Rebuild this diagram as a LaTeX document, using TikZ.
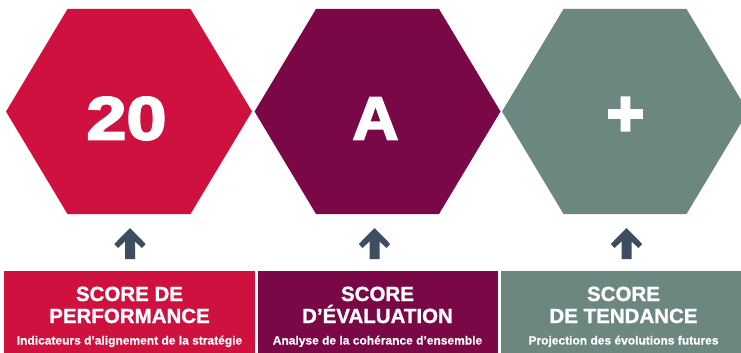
\documentclass[tikz,border=0pt]{standalone}
\usepackage{fontspec}
\setmainfont{Liberation Sans}
\newfontfamily\heavyfont[FakeBold=3]{Liberation Sans}
\newfontfamily\plusfont[FakeBold=4]{Liberation Sans}
\newfontfamily\titlefont[FakeBold=1.2]{Liberation Sans}
\newfontfamily\subfont[FakeBold=0.5]{Liberation Sans}
\definecolor{cred}{HTML}{CE113E}
\definecolor{cpurple}{HTML}{7A0746}
\definecolor{cgreen}{HTML}{6C877F}
\definecolor{carrow}{HTML}{3E4E60}
\begin{document}
\begin{tikzpicture}[x=1pt,y=-1pt,
  bigtxt/.style={text=white,font=\heavyfont\bfseries\fontsize{61}{61}\selectfont,inner sep=0pt,anchor=base},
  plustxt/.style={text=white,font=\plusfont\bfseries\fontsize{64}{64}\selectfont,inner sep=0pt,anchor=center},
  titletxt/.style={text=white,font=\titlefont\bfseries\fontsize{20.5}{20.5}\selectfont,inner sep=0pt,anchor=base},
  subtxt/.style={text=white,font=\subfont\bfseries\fontsize{12}{12}\selectfont,inner sep=0pt,anchor=base},
  uparrow/.style={fill=carrow}]
\useasboundingbox (0,0) rectangle (741,353);
\fill[white] (0,0) rectangle (741,353);
\clip (0,0) rectangle (741,353);
% hexagons
\foreach \cx/\col in {129/cred, 377.5/cpurple, 625/cgreen}{
  \fill[\col] ({\cx-123},111.5) -- ({\cx-61.5},9) -- ({\cx+61.5},9) -- ({\cx+123},111.5)
    -- ({\cx+61.5},214) -- ({\cx-61.5},214) -- cycle;
}
\node[bigtxt] (h1) at (126.5,139.5) {\scalebox{1.18}[1]{20}};
\node[bigtxt] (h2) at (375.5,139.5) {\scalebox{1.05}[1]{A}};
\node[plustxt] (h3) at (625.5,116.5) {+};
% arrows
\foreach \ax in {130,374.5,626.5}{
  \fill[uparrow] (\ax,228) -- ({\ax+15.7},244) -- ({\ax+12},248) -- ({\ax+5},241.5)
    -- ({\ax+5},259) -- ({\ax-5},259) -- ({\ax-5},241.5) -- ({\ax-12},248)
    -- ({\ax-15.7},244) -- cycle;
}
% boxes
\fill[cred] (4,271) rectangle (255,354);
\fill[cpurple] (257.5,271) rectangle (498.3,354);
\fill[cgreen] (500.7,271) rectangle (746,354);
\node[titletxt] (t1a) at (129.5,301) {SCORE DE};
\node[titletxt] (t1b) at (129.5,323) {PERFORMANCE};
\node[subtxt] (s1) at (129.5,344.5) {Indicateurs d’alignement de la stratégie};
\node[titletxt] (t2a) at (377.5,301) {SCORE};
\node[titletxt] (t2b) at (377.5,323) {D’ÉVALUATION};
\node[subtxt] (s2) at (377.5,344.5) {Analyse de la cohérance d’ensemble};
\node[titletxt] (t3a) at (623.5,301) {SCORE};
\node[titletxt] (t3b) at (623.5,323) {DE TENDANCE};
\node[subtxt] (s3) at (623.5,344.5) {Projection des évolutions futures};
\end{tikzpicture}
\end{document}
